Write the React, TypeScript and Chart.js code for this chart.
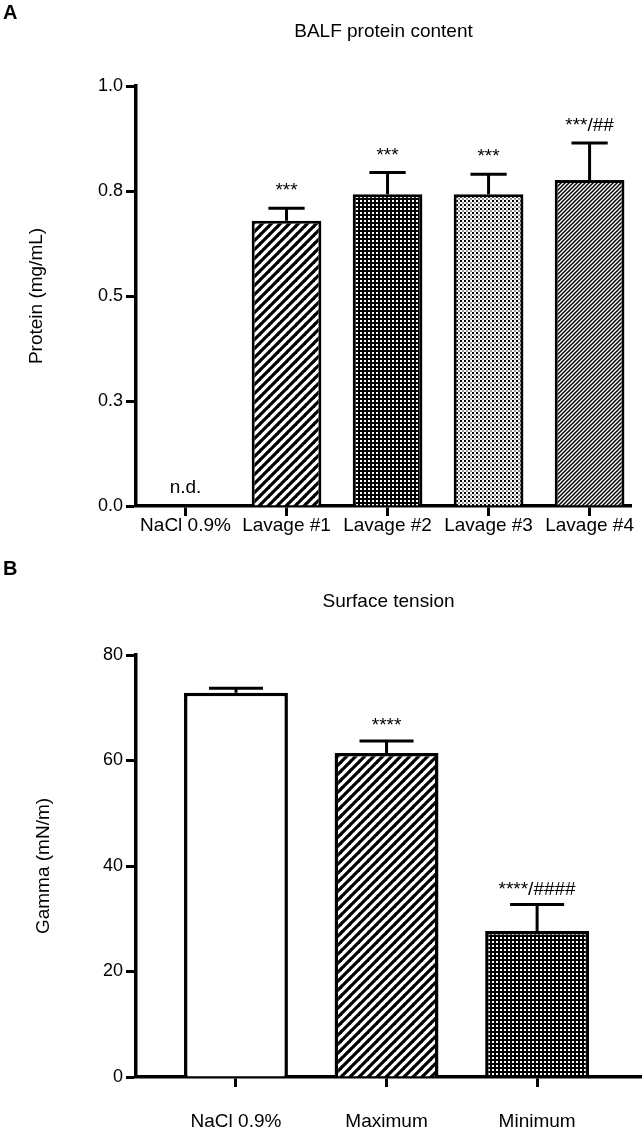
import React, { useEffect, useRef } from "react";
import { Chart, registerables } from "chart.js";

Chart.register(...registerables);

const FONT = "'Liberation Sans', Arial, Helvetica, sans-serif";

// ---------- Panel A: BALF protein content ----------
const categoriesA = ["NaCl 0.9%", "Lavage #1", "Lavage #2", "Lavage #3", "Lavage #4"];
const proteinMean: (number | null)[] = [null, 0.679, 0.742, 0.742, 0.776];
const proteinErr: (number | null)[] = [null, 0.03, 0.052, 0.048, 0.088];
const annotationsA = ["n.d.", "***", "***", "***", "***/##"];
const yTickValuesA = [0, 0.25, 0.5, 0.75, 1.0];
const yTickLabelsA = ["0.0", "0.3", "0.5", "0.8", "1.0"];

// ---------- Panel B: Surface tension ----------
const categoriesB = ["NaCl 0.9%", "Maximum", "Minimum"];
const gammaMean = [72.85, 61.4, 27.7];
const gammaErr = [0.85, 2.3, 5.0];
const annotationsB = ["", "****", "****/####"];
const yTickValuesB = [0, 20, 40, 60, 80];
const yTickLabelsB = ["0", "20", "40", "60", "80"];

function tile(size: number, draw: (g: CanvasRenderingContext2D, s: number) => void): CanvasPattern {
  const c = document.createElement("canvas");
  c.width = size;
  c.height = size;
  const g = c.getContext("2d")!;
  draw(g, size);
  return g.createPattern(c, "repeat")!;
}

function stripes(period: number, lw: number) {
  return tile(period, (g, s) => {
    g.fillStyle = "#fff";
    g.fillRect(0, 0, s, s);
    g.strokeStyle = "#000";
    g.lineWidth = lw;
    g.lineCap = "square";
    for (const k of [-1, 0, 1]) {
      g.beginPath();
      g.moveTo(k * s, s);
      g.lineTo(k * s + s, 0);
      g.stroke();
    }
  });
}

function darkDots() {
  return tile(4, (g) => {
    g.fillStyle = "#000";
    g.fillRect(0, 0, 4, 4);
    g.fillStyle = "#fff";
    g.fillRect(0, 0, 2, 2);
  });
}

function lightDots() {
  return tile(4, (g) => {
    g.fillStyle = "#fff";
    g.fillRect(0, 0, 4, 4);
    g.fillStyle = "#000";
    g.fillRect(0, 0, 2, 2);
    g.fillStyle = "#999";
    g.fillRect(2, 2, 2, 2);
  });
}

function errorBarPlugin(means: (number | null)[], errs: (number | null)[], lw: number) {
  return {
    id: "errorBars",
    afterDatasetsDraw(chart: any) {
      const meta = chart.getDatasetMeta(0);
      const ys = chart.scales.y;
      const ctx = chart.ctx;
      ctx.save();
      ctx.strokeStyle = "#000";
      ctx.lineWidth = lw;
      ctx.lineCap = "butt";
      means.forEach((m, i) => {
        const e = errs[i];
        if (m == null || e == null) return;
        const bar = meta.data[i];
        const x = bar.x;
        const w = bar.width;
        const yBar = ys.getPixelForValue(m);
        const yTop = ys.getPixelForValue(m + e);
        ctx.beginPath();
        ctx.moveTo(x, yBar);
        ctx.lineTo(x, yTop);
        ctx.moveTo(x - w * 0.26, yTop);
        ctx.lineTo(x + w * 0.26, yTop);
        ctx.stroke();
      });
      ctx.restore();
    },
  };
}

function annotationPlugin(means: (number | null)[], errs: (number | null)[], labels: string[], offset: number) {
  return {
    id: "annotations",
    afterDatasetsDraw(chart: any) {
      const xs = chart.scales.x;
      const ys = chart.scales.y;
      const ctx = chart.ctx;
      ctx.save();
      ctx.fillStyle = "#000";
      ctx.font = `19px ${FONT}`;
      ctx.textAlign = "center";
      labels.forEach((t, i) => {
        if (!t) return;
        const x = xs.getPixelForValue(i);
        const m = means[i];
        if (m == null) {
          ctx.textBaseline = "middle";
          ctx.fillText(t, x, ys.getPixelForValue(0) - 18);
        } else {
          ctx.textBaseline = "alphabetic";
          const top = ys.getPixelForValue(m + (errs[i] || 0));
          ctx.fillText(t, x, top - offset);
        }
      });
      ctx.restore();
    },
  };
}

function panelTextPlugin(letter: string, title: string, letterY: number, titleY: number) {
  return {
    id: "panelText",
    afterDraw(chart: any) {
      const { ctx, chartArea } = chart;
      ctx.save();
      ctx.fillStyle = "#000";
      ctx.font = `bold 20px ${FONT}`;
      ctx.textAlign = "left";
      ctx.textBaseline = "alphabetic";
      ctx.fillText(letter, 3, letterY);
      ctx.font = `19px ${FONT}`;
      ctx.textAlign = "center";
      ctx.textBaseline = "middle";
      ctx.fillText(title, (chartArea.left + chartArea.right) / 2, titleY);
      ctx.restore();
    },
  };
}

function makeXScale(labels: string[], min: number, max: number, height: number, labelPad: number) {
  return {
    type: "linear" as const,
    min,
    max,
    bounds: "data" as const,
    offset: false,
    afterBuildTicks: (s: any) => {
      s.ticks = labels.map((_, i) => ({ value: i }));
    },
    afterFit: (s: any) => {
      s.height = height;
    },
    ticks: {
      callback: (v: any) => labels[Math.round(v)] ?? "",
      font: { size: 19, family: FONT },
      color: "#000",
      padding: labelPad,
      autoSkip: false,
      maxRotation: 0,
      minRotation: 0,
    },
    grid: {
      display: true,
      drawOnChartArea: false,
      drawTicks: true,
      offset: false,
      tickLength: 10,
      tickWidth: 3,
      tickColor: "#000",
    },
    border: { display: true, color: "#000", width: 3.5 },
  };
}

function makeYScale(values: number[], labels: string[], min: number, max: number, title: string, titlePad: number) {
  return {
    type: "linear" as const,
    min,
    max,
    bounds: "data" as const,
    afterBuildTicks: (s: any) => {
      s.ticks = values.map((v) => ({ value: v }));
    },
    afterFit: (s: any) => {
      s.width = 136;
    },
    ticks: {
      callback: (_v: any, i: number) => labels[i],
      font: { size: 18, family: FONT },
      color: "#000",
      padding: 3,
    },
    grid: {
      display: true,
      drawOnChartArea: false,
      drawTicks: true,
      tickLength: 10,
      tickWidth: 3,
      tickColor: "#000",
    },
    border: { display: true, color: "#000", width: 3.5 },
    title: {
      display: true,
      text: title,
      color: "#000",
      font: { size: 19, family: FONT },
      padding: { top: titlePad, bottom: 0 },
    },
  };
}

export default function App() {
  const refA = useRef<HTMLCanvasElement>(null);
  const refB = useRef<HTMLCanvasElement>(null);

  useEffect(() => {
    Chart.defaults.font.family = FONT;
    Chart.defaults.color = "#000";

    const fillsA = ["#fff", stripes(9, 3.2), darkDots(), lightDots(), stripes(4, 1.5)];
    const chartA = new Chart(refA.current!, {
      type: "bar",
      data: {
        datasets: [
          {
            data: proteinMean.map((v, i) => ({ x: i, y: v })) as any,
            backgroundColor: fillsA as any,
            borderColor: "#000",
            borderWidth: 3,
            barPercentage: 0.69,
            categoryPercentage: 1,
          },
        ],
      },
      options: {
        responsive: false,
        animation: false,
        devicePixelRatio: 1,
        layout: { padding: { top: 86, right: 12, left: 0, bottom: 0 } },
        plugins: { legend: { display: false }, tooltip: { enabled: false }, title: { display: false } },
        scales: {
          x: makeXScale(categoriesA, -0.49, 4.41, 39, -2) as any,
          y: makeYScale(yTickValuesA, yTickLabelsA, 0, 1, "Protein (mg/mL)", 25) as any,
        },
      },
      plugins: [
        errorBarPlugin(proteinMean, proteinErr, 3),
        annotationPlugin(proteinMean, proteinErr, annotationsA, 12),
        panelTextPlugin("A", "BALF protein content", 19, 32),
      ],
    });

    const fillsB = ["#fff", stripes(9, 3.2), darkDots()];
    const chartB = new Chart(refB.current!, {
      type: "bar",
      data: {
        datasets: [
          {
            data: gammaMean.map((v, i) => ({ x: i, y: v })) as any,
            backgroundColor: fillsB as any,
            borderColor: "#000",
            borderWidth: 3.5,
            barPercentage: 0.69,
            categoryPercentage: 1,
          },
        ],
      },
      options: {
        responsive: false,
        animation: false,
        devicePixelRatio: 1,
        layout: { padding: { top: 110, right: 2, left: 0, bottom: 0 } },
        plugins: { legend: { display: false }, tooltip: { enabled: false }, title: { display: false } },
        scales: {
          x: makeXScale(categoriesB, -0.664, 2.69, 51, 23) as any,
          y: makeYScale(yTickValuesB, yTickLabelsB, 0, 80, "Gamma (mN/m)", 32) as any,
        },
      },
      plugins: [
        errorBarPlugin(gammaMean, gammaErr, 3),
        annotationPlugin(gammaMean, gammaErr, annotationsB, 10),
        panelTextPlugin("B", "Surface tension", 30, 57),
      ],
    });

    return () => {
      chartA.destroy();
      chartB.destroy();
    };
  }, []);

  return (
    <div style={{ position: "absolute", left: 0, top: 0, width: 643, height: 1128, background: "#fff" }}>
      <canvas ref={refA} width={643} height={545} style={{ position: "absolute", left: 0, top: 0 }} />
      <canvas ref={refB} width={643} height={583} style={{ position: "absolute", left: 0, top: 545 }} />
    </div>
  );
}
